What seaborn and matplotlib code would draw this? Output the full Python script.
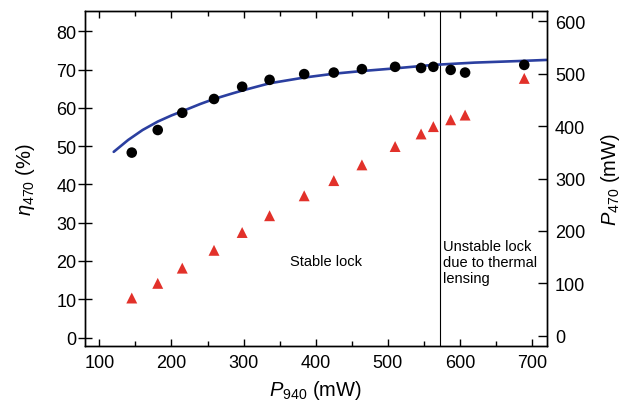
import matplotlib
matplotlib.use("Agg")
import matplotlib.pyplot as plt
import seaborn as sns
import pandas as pd
from matplotlib.ticker import MultipleLocator

# ---- data ----
p940 = [145, 181, 215, 259, 298, 336, 384, 425, 464, 510, 546, 563, 587, 607, 689]
eta470 = [48.3, 54.2, 58.7, 62.3, 65.5, 67.3, 68.8, 69.2, 70.1, 70.7, 70.4, 70.7, 69.9, 69.2, 71.2]
p470 = [72, 100, 129, 163, 197, 229, 267, 296, 326, 361, 385, 399, 412, 421, 491]
fit_p940 = [120, 140, 160, 181, 200, 215, 240, 259, 280, 298, 336, 384, 425, 464, 510, 563, 620, 680, 720]
fit_eta = [48.5, 51.6, 54.2, 56.4, 58.0, 59.1, 61.0, 62.3, 63.5, 64.5, 66.4, 67.9, 68.9, 69.6, 70.3, 71.2, 71.8, 72.2, 72.5]
lock_boundary = 572
x_ticks = [100, 200, 300, 400, 500, 600, 700]
left_ticks = [0, 10, 20, 30, 40, 50, 60, 70, 80]
right_ticks = [0, 100, 200, 300, 400, 500, 600]

df = pd.DataFrame({"p940": p940, "eta": eta470, "p470": p470})
fit = pd.DataFrame({"p940": fit_p940, "eta": fit_eta})

sns.set_style("ticks")
plt.rcParams["font.family"] = ["Liberation Sans", "DejaVu Sans"]
plt.rcParams["mathtext.fontset"] = "custom"
plt.rcParams["mathtext.rm"] = "Liberation Sans"
plt.rcParams["mathtext.it"] = "Liberation Sans:italic"
plt.rcParams["text.color"] = "black"
plt.rcParams["axes.labelcolor"] = "black"
plt.rcParams["xtick.color"] = "black"
plt.rcParams["ytick.color"] = "black"
plt.rcParams["axes.edgecolor"] = "black"

fig = plt.figure(figsize=(6.24, 4.10), dpi=100)
ax = fig.add_axes([0.136, 0.1537, 0.740, 0.8163])
ax2 = ax.twinx()

sns.lineplot(data=fit, x="p940", y="eta", ax=ax, color="#2b3fa0", lw=1.9, zorder=2)
sns.scatterplot(data=df, x="p940", y="eta", ax=ax, color="black", marker="o",
                s=58, edgecolor="none", zorder=3)
sns.scatterplot(data=df, x="p940", y="p470", ax=ax2, color="#e2312a", marker="^",
                s=62, edgecolor="none", zorder=3)

ax.axvline(lock_boundary, color="black", lw=0.8, zorder=1)

ax.set_xlim(80, 720)
ax.set_ylim(-2.2, 85.2)
ax2.set_ylim(-19.5, 619)

ax.set_xticks(x_ticks)
ax.xaxis.set_minor_locator(MultipleLocator(50))
ax.set_yticks(left_ticks)
ax2.set_yticks(right_ticks)

for a in (ax, ax2):
    for s in a.spines.values():
        s.set_linewidth(1.0)
        s.set_color("black")

ax.tick_params(axis="x", which="both", direction="in", top=True, labelsize=13, pad=6)
ax.tick_params(axis="x", which="major", length=5, width=1)
ax.tick_params(axis="x", which="minor", length=3.5, width=1)
ax.tick_params(axis="y", which="major", direction="inout", length=10, width=1,
               labelsize=13, pad=1)
ax2.tick_params(axis="y", which="major", direction="in", length=6.5, width=1,
                labelsize=13, pad=6)

ax.set_xlabel(r"$P_{940}$ (mW)", fontsize=14.5, labelpad=5)
ax.set_ylabel(r"$\eta_{470}$ (%)", fontsize=14.5, labelpad=14)
ax2.set_ylabel(r"$P_{470}$ (mW)", fontsize=14.5, labelpad=10, rotation=90)

ax.text(364, 19.9, "Stable lock", fontsize=10.5, ha="left", va="center")
ax.text(577, 19.7, "Unstable lock\ndue to thermal\nlensing", fontsize=10.5,
        ha="left", va="center", linespacing=1.2)

fig.savefig("out.png", dpi=100)
